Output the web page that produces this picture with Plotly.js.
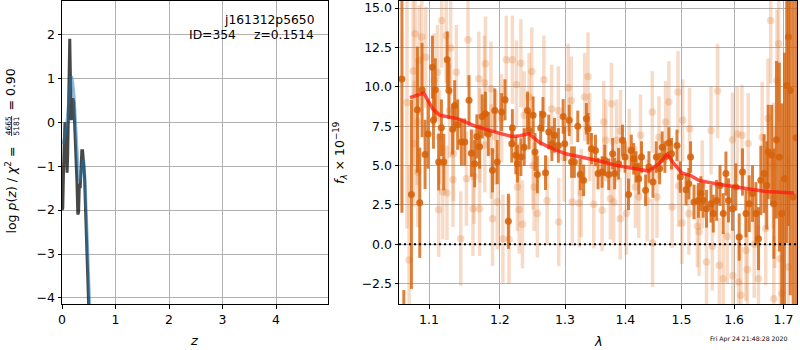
<!DOCTYPE html>
<html><head><meta charset="utf-8">
<script src="https://cdn.plot.ly/plotly-3.0.1.min.js"></script>
<style>html,body{margin:0;padding:0;background:#fff;} #chart{width:800px;height:350px;}</style>
</head><body><div id="chart"></div>
<script>
// ---- left panel: redshift probability ----
const zDark = [0.0,0.015,0.03,0.045,0.055,0.065,0.08,0.095,0.105,0.12,0.135,0.145,0.155,0.165,0.175,0.19,0.205,0.22,0.24,0.26,0.28,0.295,0.31,0.325,0.34,0.355,0.37,0.385,0.40,0.42,0.44,0.46,0.48,0.50,0.52];
const logpDark = [-2.0,-1.95,-1.0,-0.2,0.0,-0.3,-0.7,-1.15,-0.8,0.2,1.5,1.9,1.2,0.4,0.05,0.3,0.55,0.45,-0.1,-0.7,-1.4,-2.1,-2.05,-1.4,-1.5,-1.1,-0.65,-0.65,-0.85,-1.2,-2.0,-2.8,-3.6,-4.3,-5.0];
const zBlue = [0.02,0.04,0.07,0.10,0.13,0.16,0.18,0.20,0.225,0.25,0.275,0.30,0.33,0.355,0.38,0.405,0.43,0.455,0.48,0.50,0.53];
const logpBlue = [-0.5,-0.4,-0.2,0.1,0.6,1.0,1.05,0.9,0.6,0.1,-0.5,-1.05,-1.35,-1.2,-0.95,-0.85,-1.3,-1.95,-2.9,-3.6,-4.6];

// ---- right panel: spectrum ----
const lamBold = [1.064,1.0665,1.0765,1.0844,1.0876,1.0907,1.0947,1.0987,1.1046,1.106,1.1085,1.1131,1.1169,1.1201,1.1249,1.1272,1.1324,1.1352,1.1394,1.1446,1.1493,1.1554,1.1587,1.1634,1.1666,1.1704,1.1742,1.1789,1.1831,1.1892,1.1925,1.1962,
1.2026,1.2076,1.2126,1.2177,1.2186,1.2238,1.2262,1.2314,1.2364,1.2414,1.2439,1.25,1.253,1.2565,1.2617,1.2652,1.2692,1.2742,1.2792,1.2833,1.2894,1.297,1.2995,1.3067,1.3105,1.315,1.3205,1.3245,1.33,1.3345,1.3372,1.3428,1.3495,1.3538,
1.3605,1.365,1.3717,1.3783,1.3817,1.3883,1.395,1.3995,1.4054,1.4102,1.4143,1.4184,1.4232,1.428,1.4352,1.4411,1.4482,1.4541,1.4602,1.4648,1.4696,1.4768,1.4816,1.4916,1.4977,1.5083,1.5135,1.5167,1.5231,1.5313,
1.536,1.5404,1.5467,1.5552,1.5596,1.566,1.5725,1.5788,1.584,1.589,1.5967,1.6034,1.61,1.6166,1.6234,1.63,1.6366,1.6434,1.6486,1.6534,1.66,1.6654,1.6686,1.6754,1.68,1.6854,1.6914,1.6966,1.702,1.7067,1.7102,1.7143,1.7204,1.7265];
const fluxBold = [10.5,-5.5,3.17,8.55,2.64,9.8,5.71,7.0,11.25,7.87,9.81,5.22,7.4,5.22,11.72,9.77,7.3,8.82,7.6,6.49,6.49,9.14,5.79,5.12,6.85,6.2,8.12,8.29,7.0,4.70,8.5,5.22,
8.40,9.18,1.46,6.39,7.38,5.65,5.12,5.54,6.17,8.50,7.23,8.19,5.86,4.44,7.38,8.25,4.55,7.13,6.39,6.92,6.28,8.12,6.39,7.87,5.22,5.22,7.49,4.44,4.06,7.97,7.34,6.07,5.96,4.49,
4.59,5.33,4.44,5.75,4.49,5.12,6.60,5.54,3.17,5.96,5.43,4.91,4.17,5.54,3.43,4.91,3.95,5.54,4.81,6.17,5.54,6.43,5.75,6.28,4.27,3.47,3.85,5.54,2.69,2.79,
3.22,2.79,2.26,2.58,1.95,2.79,3.74,1.95,4.49,2.79,2.26,3.64,0.46,4.59,1.95,2.58,3.22,1.95,0.36,4.06,4.49,3.74,5.86,5.65,2.58,6.64,5.54,1.95,4.17,10.09,13.16,9.77,3.0,6.77];
const errBold = [8.5,2.6,6.0,4.0,3.5,3.0,2.2,2.2,2.0,1.8,2.0,1.8,1.8,1.8,1.8,1.8,1.6,1.6,1.6,1.5,1.5,1.6,1.5,1.5,1.4,1.4,1.4,1.4,1.4,1.4,1.4,1.4,
1.2,1.3,1.75,1.2,1.2,1.2,1.2,1.2,1.2,1.2,1.2,1.2,1.2,1.2,1.1,1.1,1.1,1.1,1.1,1.1,1.1,1.1,1.1,1.0,1.0,1.0,1.0,1.0,1.0,1.0,1.0,1.0,1.0,1.0,
1.0,1.0,1.0,1.0,1.0,1.0,1.0,1.0,1.0,1.0,1.0,1.0,1.0,1.0,1.0,1.0,1.0,1.0,1.0,1.0,1.0,1.0,1.0,1.0,1.0,1.0,1.0,1.0,1.1,1.1,
1.1,1.1,1.2,1.2,1.2,1.3,1.3,1.3,1.4,1.4,1.4,1.5,1.5,1.5,1.5,1.8,1.8,2.0,2.0,2.2,2.5,2.8,3.0,3.2,3.5,5.0,6.0,7.0,8.0,10,12,13,14,15];

const lamFaint = [1.0707,1.0734,1.0787,1.08,1.0814,1.0844,1.0850,1.0867,1.0903,1.0956,1.107,1.1117,1.1131,1.1141,1.1173,1.1187,1.1235,1.1245,1.1282,1.1296,1.1328,1.1335,1.1376,1.1437,1.1517,1.1539,1.161,1.1625,1.1694,1.1704,1.171,1.1775,1.178,1.1789,1.1869,1.1873,1.1892,1.194,1.1962,
1.2026,1.2045,1.2095,1.2136,1.2186,1.2247,1.2262,1.2288,1.2314,1.2338,1.2364,1.2439,1.248,1.25,1.2515,1.2565,1.2667,1.2717,1.2788,1.2894,1.29,1.2985,1.305,1.31,1.3117,1.3228,1.3262,1.3317,1.3372,1.34,1.3467,
1.3605,1.3633,1.3667,1.3745,1.3762,1.38,1.385,1.3912,1.3917,1.4018,1.4066,1.4173,1.4232,1.4263,1.438,1.447,1.4475,1.4554,1.4589,1.4709,1.4768,1.4827,1.4934,1.4946,1.5006,1.5019,1.5135,1.5148,1.5294,
1.5327,1.5385,1.5467,1.5552,1.5577,1.5679,1.5712,1.5788,1.5865,1.5967,1.5975,1.606,1.6086,1.6134,1.6154,1.6234,1.626,1.628,1.64,1.6486,1.656,1.6634,1.668,1.6734,1.6786,1.68,1.682,1.6866,1.69,1.6934,1.6966,1.7102];
const fluxFaint = [9.0,-1.0,11.0,6.39,13.37,7.76,4.59,11.68,13.16,11.88,10.4,10.93,2.20,6.81,14.21,3.32,13.26,3.26,8.5,12.46,4.10,5.75,10.93,0.36,4.17,12.99,2.26,4.3,10.51,2.26,6.92,10.24,6.3,11.47,9.88,5.9,1.63,6.8,2.69,
8.0,0.36,11.72,0.3,11.72,10.15,3.64,2.20,11.50,1.27,8.19,9.35,10.98,5.0,3.64,1.95,10.45,2.79,8.6,8.50,1.42,5.5,9.94,9.13,2.69,2.62,3.26,9.35,10.66,6.8,2.54,
2.16,7.76,6.6,2.90,8.93,2.69,6.6,1.63,7.2,1.95,6.0,3.64,3.0,6.92,2.79,8.40,0.08,3.0,6.8,7.76,9.03,2.37,9.67,3.7,1.35,7.87,1.95,7.34,1.14,
0.8,3.8,-1.12,7.23,-0.13,9.73,-1.33,-2.18,0.5,6.64,-2.0,7.0,-2.39,-3.24,6.92,-0.38,-1.6,6.4,0.0,-2.18,6.8,1.0,8.0,14.21,5.0,-3.45,3.0,10.40,12.73,-0.91,-3.13,-1.44];
const errFaint = [8.0,6.0,6.0,4.0,4.0,4.0,3.5,3.5,3.5,3.2,3.0,3.0,3.0,3.0,3.0,3.0,3.0,3.0,3.0,3.0,3.0,3.0,3.0,3.0,3.0,3.0,3.0,3.0,3.0,3.0,3.0,3.0,3.0,3.0,3.0,3.0,3.0,3.0,3.0,
2.8,2.8,2.8,2.8,2.8,2.8,2.8,2.8,2.8,2.8,2.8,2.8,2.8,2.8,2.8,2.8,2.8,2.8,2.8,2.8,2.8,2.8,2.8,2.8,2.8,2.8,2.8,2.8,2.8,2.8,2.8,
2.6,2.6,2.6,2.6,2.6,2.6,2.6,2.6,2.6,2.6,2.6,2.6,2.6,2.6,2.6,2.6,2.8,2.6,2.6,2.6,2.6,2.6,2.6,2.6,2.6,2.6,2.6,2.6,2.6,
2.8,2.8,2.8,2.8,2.8,3.0,3.0,3.0,3.0,3.0,3.0,3.0,3.0,3.2,3.2,3.2,3.2,3.2,3.4,3.4,3.5,3.6,3.8,4.0,4.0,4.0,4.5,4.5,5.0,5.0,5.0,7.0];

const lamModel = [1.0746,1.083,1.093,1.105,1.115,1.139,1.165,1.1987,1.218,1.23,1.2437,1.259,1.2747,1.301,1.328,1.356,1.3836,1.412,1.441,1.459,1.474,1.486,1.501,1.516,1.532,1.564,1.597,1.630,1.663,1.722];
const fluxModel = [9.31,9.45,9.6,8.6,8.19,7.98,7.49,7.06,6.85,6.9,7.02,6.49,6.17,5.75,5.54,5.29,5.01,4.84,4.65,5.12,5.71,5.12,4.52,4.38,4.06,3.85,3.68,3.49,3.36,3.26];

const lamTicks = [1.1,1.2,1.3,1.4,1.5,1.6,1.7];
const lamTickText = ['1.1','1.2','1.3','1.4','1.5','1.6','1.7'];

const FONT = 'DejaVu Sans, sans-serif';
const base = {showline:true, mirror:true, linecolor:'black', linewidth:1, ticks:'outside', ticklen:3.5, tickwidth:1, tickcolor:'black',
  showgrid:true, gridcolor:'#b0b0b0', gridwidth:1, zeroline:false, tickfont:{family:FONT, size:12.5, color:'black'}};

const traces = [
  {x:zDark, y:logpDark, xaxis:'x', yaxis:'y', mode:'lines', line:{color:'rgba(0,0,0,0.72)', width:3}, hoverinfo:'skip'},
  {x:zBlue, y:logpBlue, xaxis:'x', yaxis:'y', mode:'lines', line:{color:'rgba(31,119,180,0.5)', width:3}, hoverinfo:'skip'},
  {x:lamFaint, y:fluxFaint, xaxis:'x2', yaxis:'y2', mode:'markers', marker:{size:7.5, color:'rgba(225,110,30,0.25)', line:{width:0}},
   error_y:{type:'data', array:errFaint, visible:true, color:'rgba(225,110,30,0.25)', thickness:3.5, width:0}, hoverinfo:'skip'},
  {x:lamBold, y:fluxBold, xaxis:'x2', yaxis:'y2', mode:'markers', marker:{size:7, color:'rgba(214,98,10,0.88)', line:{width:0}},
   error_y:{type:'data', array:errBold, visible:true, color:'rgba(214,98,10,0.8)', thickness:3, width:0}, hoverinfo:'skip'},
  {x:lamModel, y:fluxModel, xaxis:'x2', yaxis:'y2', mode:'lines', line:{color:'rgba(255,25,15,0.75)', width:3.5}, hoverinfo:'skip'}
];

const ann = (text, px, py, opt) => Object.assign({text:text, x:px/800, y:1-py/350, xref:'paper', yref:'paper', showarrow:false,
  xanchor:'center', yanchor:'middle', font:{family:FONT, size:12.5, color:'black'}}, opt||{});

const layout = {
  width:800, height:350, margin:{l:0,r:0,t:0,b:0, autoexpand:false}, showlegend:false,
  paper_bgcolor:'white', plot_bgcolor:'white',
  xaxis:Object.assign({}, base, {domain:[62/800, 328/800], range:[0,4.97], tick0:0, dtick:1, anchor:'y'}),
  yaxis:Object.assign({}, base, {domain:[46/350, 349/350], range:[-4.139, 2.763], tick0:0, dtick:1, anchor:'x'}),
  xaxis2:Object.assign({}, base, {domain:[399/800, 797/800], type:'log', range:[0.02539, 0.23766], tickvals:lamTicks, ticktext:lamTickText, anchor:'y2'}),
  yaxis2:Object.assign({}, base, {domain:[46/350, 349/350], range:[-3.79, 15.45], tick0:0, dtick:2.5, tickformat:'.1f', anchor:'x2'}),
  shapes:[{type:'line', xref:'x2 domain', x0:0, x1:1, yref:'y2', y0:0, y1:0, line:{color:'black', width:2, dash:'2px,3px'}, layer:'above'},
          {type:'line', xref:'paper', yref:'paper', x0:11.6/800, x1:11.6/800, y0:1-116/350, y1:1-136/350, line:{color:'black', width:0.8}}],
  annotations:[
    ann('j161312p5650', 316, 20, {xanchor:'right', font:{family:FONT, size:12.3, color:'black'}}),
    ann('ID=354', 238, 35, {xanchor:'right', font:{family:FONT, size:12.3, color:'black'}}),
    ann('z=0.1514', 316, 35, {xanchor:'right', font:{family:FONT, size:12.3, color:'black'}}),
    ann('<i>z</i>', 194, 340, {font:{family:FONT, size:13, color:'black'}}),
    ann('<i>λ</i>', 598, 341, {font:{family:FONT, size:13, color:'black'}}),
    ann('log <i>p</i>(<i>z</i>) / <i>χ</i><sup>2</sup> =', 10.5, 190, {textangle:-90}),
    ann('4665', 8.3, 126, {textangle:-90, font:{family:FONT, size:7.5, color:'black'}}),
    ann('5181', 15.5, 126, {textangle:-90, font:{family:FONT, size:7.5, color:'black'}}),
    ann('= 0.90', 10.5, 90, {textangle:-90}),
    ann('<i>f</i><sub><i>λ</i></sub> × 10<sup>−19</sup>', 340, 153, {textangle:-90}),
    ann('Fri Apr 24 21:48:28 2020', 748, 339, {font:{family:FONT, size:6.2, color:'black'}})
  ]
};

Plotly.newPlot('chart', traces, layout, {staticPlot:true, displayModeBar:false});
</script></body></html>
